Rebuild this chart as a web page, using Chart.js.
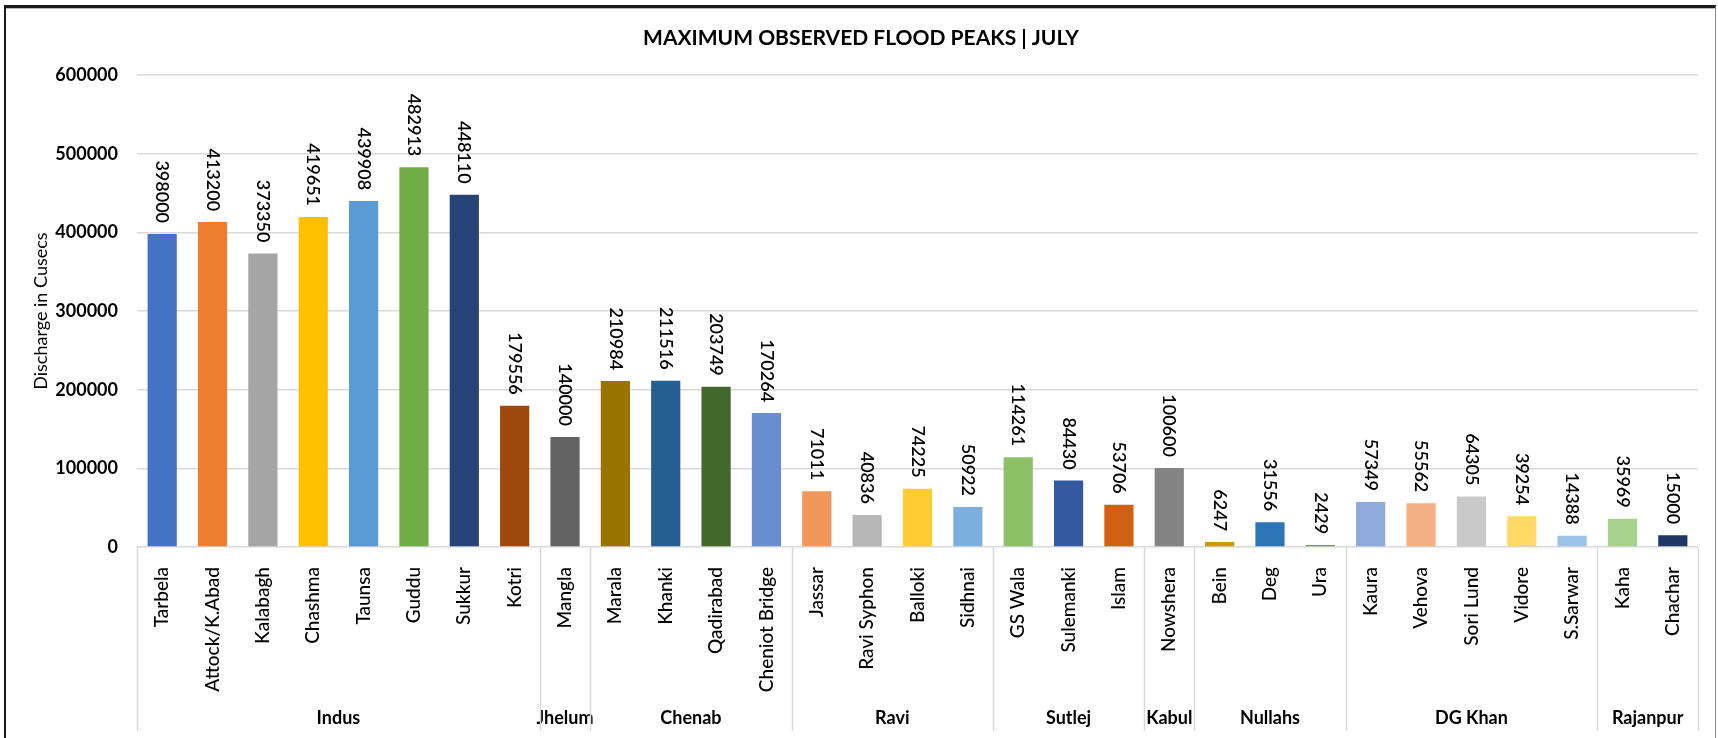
<!DOCTYPE html>
<html>
<head>
<meta charset="utf-8">
<title>Maximum Observed Flood Peaks | July</title>
<script src="https://cdn.jsdelivr.net/npm/chart.js@4/dist/chart.umd.min.js"></script>
<style>
  html, body { margin: 0; padding: 0; background: #fff; overflow: hidden; }
  .frame {
    position: absolute; left: 4px; top: 5px; width: 1709px; height: 760px;
    border-top: 3px solid #1a1a1a; border-left: 2px solid #1a1a1a; border-right: 1px solid #8a8a8a;
    box-shadow: inset 0 1px 0 #bbb;
  }
  .wrap { position: absolute; left: 0; top: 0; width: 1718px; height: 738px; }
</style>
</head>
<body>
<div class="frame"></div>
<div class="wrap"><canvas id="floodChart" width="1718" height="738"></canvas></div>
<script>
// ---------- DATI ----------
const stations = [
  'Tarbela', 'Attock/K.Abad', 'Kalabagh', 'Chashma', 'Taunsa', 'Guddu', 'Sukkur', 'Kotri',
  'Mangla',
  'Marala', 'Khanki', 'Qadirabad', 'Cheniot Bridge',
  'Jassar', 'Ravi Syphon', 'Balloki', 'Sidhnai',
  'GS Wala', 'Sulemanki', 'Islam',
  'Nowshera',
  'Bein', 'Deg', 'Ura',
  'Kaura', 'Vehova', 'Sori Lund', 'Vidore', 'S.Sarwar',
  'Kaha', 'Chachar'
];

const peaks = [
  398000, 413200, 373350, 419651, 439908, 482913, 448110, 179556,
  140000,
  210984, 211516, 203749, 170264,
  71011, 40836, 74225, 50922,
  114261, 84430, 53706,
  100600,
  6247, 31556, 2429,
  57349, 55562, 64305, 39254, 14388,
  35969, 15000
];

// fiumi / aree e numero di stazioni per ciascuno
const groups = ['Indus', 'Jhelum', 'Chenab', 'Ravi', 'Sutlej', 'Kabul', 'Nullahs', 'DG Khan', 'Rajanpur'];
const groupSizes = [8, 1, 4, 4, 3, 1, 3, 5, 2];

const yTicks = [0, 100000, 200000, 300000, 400000, 500000, 600000];

const barColors = [
  '#4472C4', '#ED7D31', '#A5A5A5', '#FFC000', '#5B9BD5', '#70AD47', '#264478', '#9E480E',
  '#636363',
  '#997300', '#255E91', '#43682B', '#698ED0',
  '#F1975A', '#B7B7B7', '#FFCD33', '#7CAFDD',
  '#8CC168', '#335AA1', '#D26012',
  '#848484',
  '#CC9A00', '#2E75B6', '#6A9A4A',
  '#8FAADC', '#F4B183', '#C9C9C9', '#FFD966', '#9DC3E6',
  '#A9D18E', '#203864'
];

const FONT = 'Lato, "Open Sans", sans-serif';
const GRID = '#D9D9D9';
const AXIS_H = 184;   // altezza asse x (stazioni + gruppi)

// ---------- ETICHETTE VALORI (ruotate sopra le barre) ----------
const valueLabels = {
  id: 'valueLabels',
  afterDatasetsDraw(chart) {
    const ctx = chart.ctx;
    const meta = chart.getDatasetMeta(0);
    ctx.save();
    ctx.fillStyle = '#000';
    ctx.font = '600 18px ' + FONT;
    ctx.textAlign = 'right';
    ctx.textBaseline = 'middle';
    meta.data.forEach((bar, i) => {
      ctx.save();
      ctx.translate(bar.x, bar.y - 11);
      ctx.rotate(Math.PI / 2);
      ctx.fillText(String(chart.data.datasets[0].data[i]), 0, 0);
      ctx.restore();
    });
    ctx.restore();
  }
};

// ---------- SECONDO LIVELLO ASSE X (gruppi) ----------
const groupAxis = {
  id: 'groupAxis',
  afterDraw(chart) {
    const ctx = chart.ctx;
    const x = chart.scales.x;
    const area = chart.chartArea;
    const half = (x.getPixelForValue(1) - x.getPixelForValue(0)) / 2;
    const bottom = area.bottom + AXIS_H;
    ctx.save();
    ctx.strokeStyle = GRID;
    ctx.lineWidth = 1.5;
    ctx.fillStyle = '#000';
    ctx.font = 'bold 18px ' + FONT;
    ctx.textAlign = 'center';
    ctx.textBaseline = 'middle';
    let start = 0;
    const edges = [x.getPixelForValue(0) - half];
    groups.forEach((g, gi) => {
      const end = start + groupSizes[gi] - 1;
      const left = x.getPixelForValue(start) - half;
      const right = x.getPixelForValue(end) + half;
      edges.push(right);
      ctx.fillText(g, (left + right) / 2, area.bottom + 171);
      start = end + 1;
    });
    edges.forEach(px => {
      const xx = Math.round(px) + 0.5;
      ctx.beginPath();
      ctx.moveTo(xx, area.bottom);
      ctx.lineTo(xx, bottom);
      ctx.stroke();
    });
    ctx.restore();
  }
};

const ctx = document.getElementById('floodChart');
new Chart(ctx, {
  type: 'bar',
  data: {
    labels: stations,
    datasets: [{
      label: 'Discharge',
      data: peaks,
      backgroundColor: barColors,
      borderWidth: 0,
      barPercentage: 0.58,
      categoryPercentage: 1
    }]
  },
  options: {
    responsive: false,
    animation: false,
    devicePixelRatio: 1,
    layout: { padding: { left: 24, right: 20, top: 0, bottom: 7 } },
    plugins: {
      legend: { display: false },
      tooltip: { enabled: false },
      title: {
        display: true,
        text: 'MAXIMUM OBSERVED FLOOD PEAKS | JULY',
        color: '#000',
        font: { family: FONT, size: 21, weight: 'bold' },
        padding: { top: 26, bottom: 24 }
      }
    },
    scales: {
      x: {
        type: 'category',
        grid: { display: false },
        border: { display: false },
        ticks: {
          color: '#000',
          font: { family: FONT, size: 19, weight: '500' },
          minRotation: 90,
          maxRotation: 90,
          autoSkip: false,
          padding: 12
        },
        afterFit(scale) { scale.height = AXIS_H; }
      },
      y: {
        min: 0,
        max: 600000,
        afterBuildTicks(scale) { scale.ticks = yTicks.map(v => ({ value: v })); },
        grid: { color: GRID, lineWidth: 1.5, drawTicks: false },
        border: { display: false },
        ticks: {
          color: '#000',
          font: { family: FONT, size: 18, weight: 'bold' },
          padding: 19,
          callback: v => String(v)
        },
        title: {
          display: true,
          text: 'Discharge in Cusecs',
          color: '#000',
          font: { family: FONT, size: 18 },
          padding: { top: 6, bottom: 0 }
        },
        afterFit(scale) { scale.width = 113; }
      }
    }
  },
  plugins: [valueLabels, groupAxis]
});
</script>
</body>
</html>
